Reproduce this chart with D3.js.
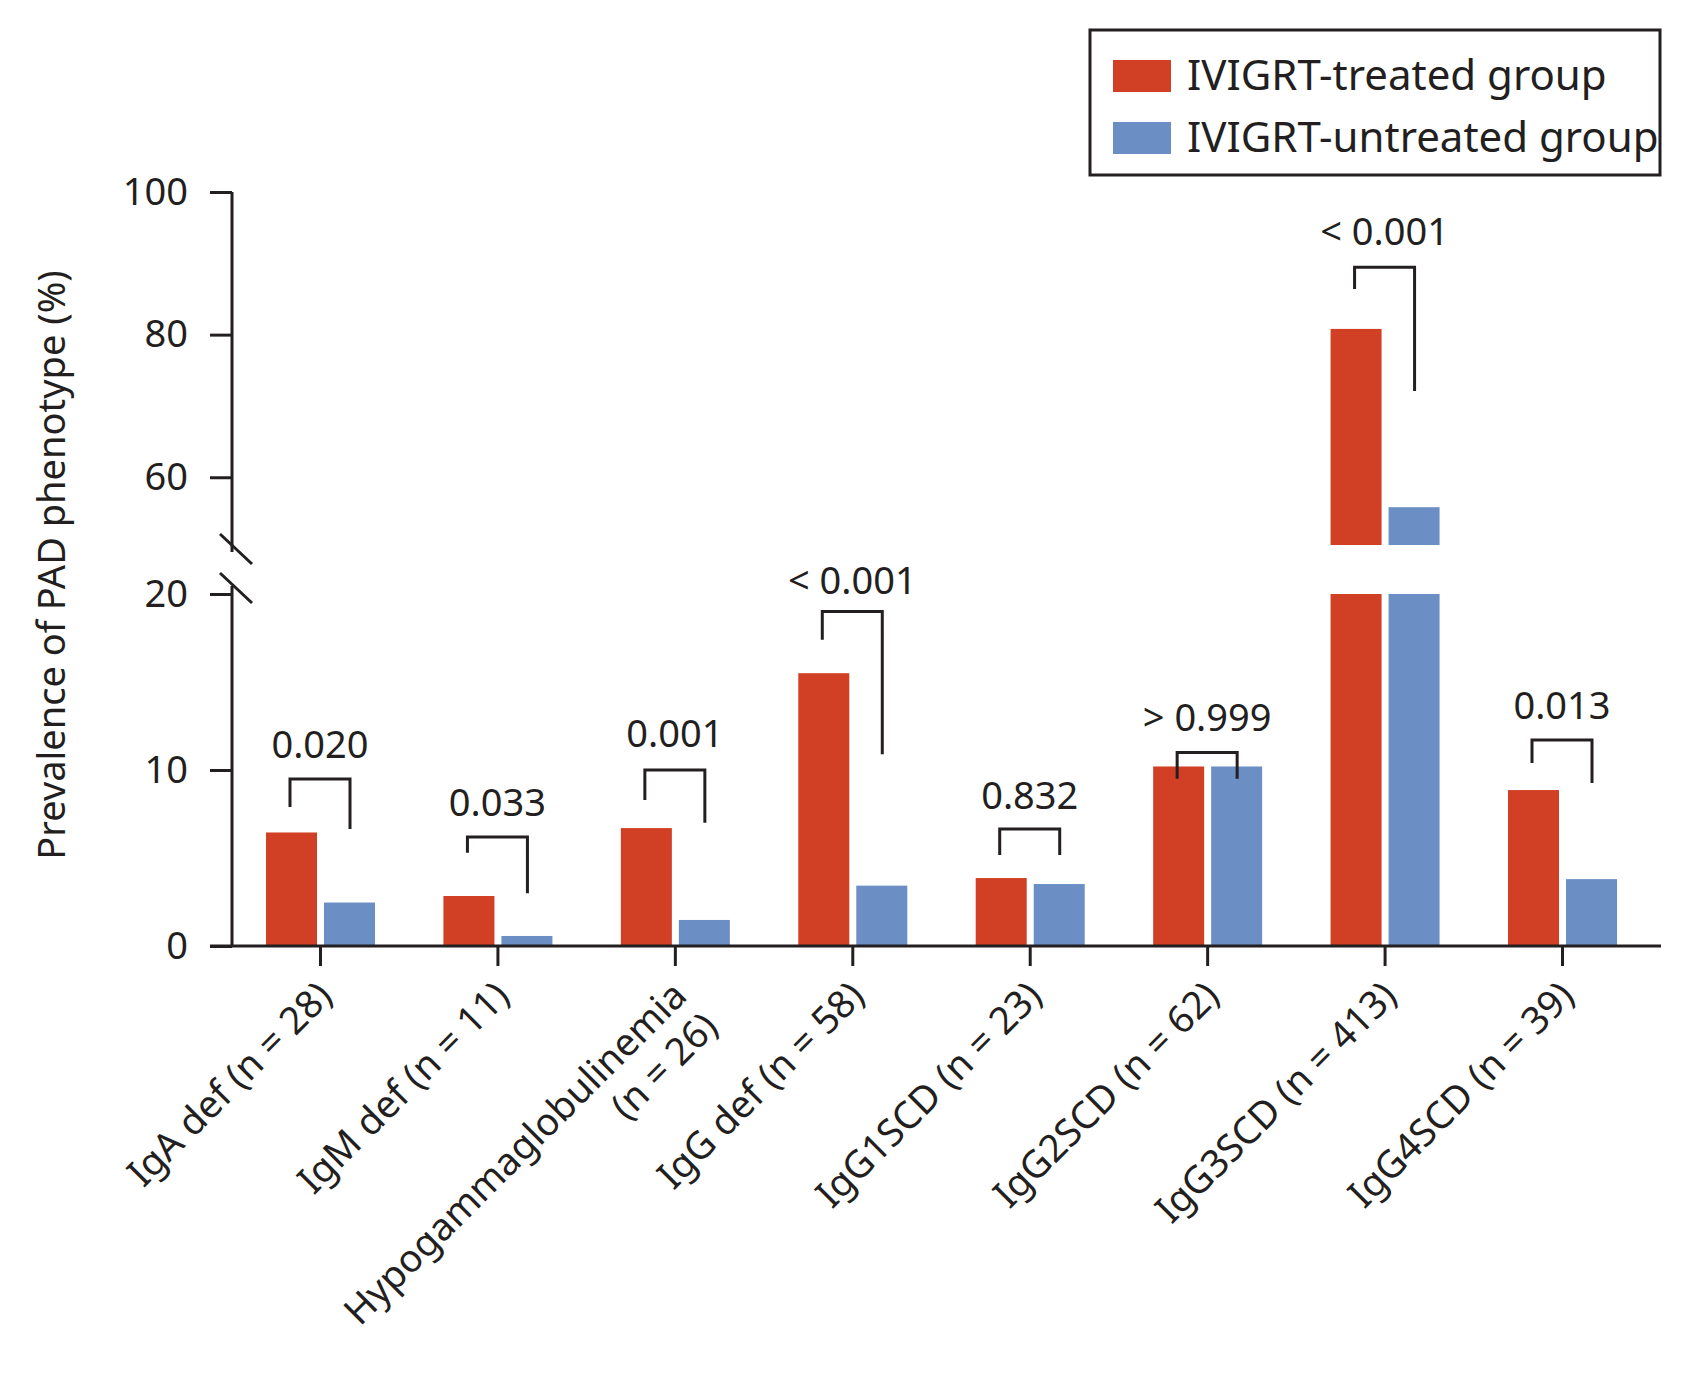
<!DOCTYPE html>
<html><head><meta charset="utf-8">
<script src="https://cdn.jsdelivr.net/npm/d3@7"></script>
<style>body{margin:0;background:#fff}text{font-family:"Noto Sans",sans-serif;fill:#231f20}</style>
</head><body>
<svg id="c" width="1691" height="1384"></svg>
<script>
const categories = ["IgA def (n = 28)","IgM def (n = 11)","Hypogammaglobulinemia|(n = 26)","IgG def (n = 58)","IgG1SCD (n = 23)","IgG2SCD (n = 62)","IgG3SCD (n = 413)","IgG4SCD (n = 39)"];
const treated   = [6.45, 2.84, 6.7, 15.5, 3.86, 10.2, 80.8, 8.86];
const untreated = [2.47, 0.57, 1.48, 3.43, 3.52, 10.2, 55.8, 3.8];
const pLabels = ["0.020","0.033","0.001","< 0.001","0.832","> 0.999","< 0.001","0.013"];
// bracket geometry in data units: [top, leftEnd, rightEnd, labelBaseline]
const brackets = [[9.49,7.9,6.65,10.68],[6.2,5.3,3.0,7.4],[10.0,8.3,7.0,11.3],[19.0,17.4,10.9,20.0],[6.65,5.17,5.17,7.78],[11.0,9.5,9.5,12.2],[89.45,86.4,72.1,92.6],[11.7,10.4,9.26,12.9]];
const upperTicks = [60,80,100];
const lowerTicks = [0,10,20];
const seriesNames = ["IVIGRT-treated group","IVIGRT-untreated group"];
const colors = ["#d13f24","#6b8fc5"];
const BREAK = 20, UPPER_MIN = 50.5;

const svg = d3.select("#c");
const ink = "#231f20";
const x = d3.scalePoint().domain(d3.range(categories.length)).range([320, 1562]);
const yLow = d3.scaleLinear().domain([0, 20]).range([946, 594]);
const yUp = d3.scaleLinear().domain([UPPER_MIN, 100]).range([545, 192]);
const bw = 51, off = [-54, 4];

// bars
[treated, untreated].forEach((vals, s) => {
  vals.forEach((v, i) => {
    const bx = x(i) + off[s];
    if (v <= BREAK) {
      svg.append("rect").attr("x", bx).attr("width", bw).attr("y", yLow(v)).attr("height", yLow(0) - yLow(v)).attr("fill", colors[s]);
    } else {
      svg.append("rect").attr("x", bx).attr("width", bw).attr("y", yLow(BREAK)).attr("height", yLow(0) - yLow(BREAK)).attr("fill", colors[s]);
      svg.append("rect").attr("x", bx).attr("width", bw).attr("y", yUp(v)).attr("height", yUp(UPPER_MIN) - yUp(v)).attr("fill", colors[s]);
    }
  });
});

// axes
const lowAx = svg.append("g").attr("transform", "translate(232,0)")
  .call(d3.axisLeft(yLow).tickValues(lowerTicks).tickSize(22).tickPadding(22));
const upAx = svg.append("g").attr("transform", "translate(232,0)")
  .call(d3.axisLeft(yUp).tickValues(upperTicks).tickSize(22).tickPadding(22));
[lowAx, upAx].forEach(g => {
  g.selectAll("line").attr("stroke", ink).attr("stroke-width", 3);
  g.selectAll("text").attr("font-size", 38).attr("fill", ink).attr("font-family", '"Noto Sans",sans-serif');
});
lowAx.select(".domain").attr("d", `M0,${yLow(20)-8}V${yLow(0)}`).attr("stroke", ink).attr("stroke-width", 3);
upAx.select(".domain").attr("d", `M0,${yUp(100)}V${yUp(UPPER_MIN)+7}`).attr("stroke", ink).attr("stroke-width", 3);
// break marks
[[534,564],[573,603]].forEach(([a,b]) => svg.append("line").attr("x1",220).attr("y1",a).attr("x2",252).attr("y2",b).attr("stroke",ink).attr("stroke-width",3));

// x axis
const xAx = svg.append("g").attr("transform", `translate(0,${yLow(0)})`)
  .call(d3.axisBottom(x).tickSize(20).tickFormat(""));
xAx.select(".domain").attr("d", "M210,0H1661").attr("stroke", ink).attr("stroke-width", 3);
xAx.selectAll("line").attr("stroke", ink).attr("stroke-width", 3);
categories.forEach((c, i) => {
  const t = svg.append("text").attr("transform", `translate(${x(i)+14},${yLow(0)+52}) rotate(-45)`)
    .attr("text-anchor", "end").attr("font-size", 38);
  c.split("|").forEach((ln, k) => t.append("tspan").attr("x", 0).attr("dy", k ? "1.15em" : 0).text(ln));
});

// brackets
brackets.forEach((b, i) => {
  const sc = treated[i] > BREAK ? yUp : yLow;
  const xl = x(i) - 30, xr = x(i) + 30;
  svg.append("path").attr("d", `M${xl},${sc(b[1])}V${sc(b[0])}H${xr}V${sc(b[2])}`)
    .attr("fill", "none").attr("stroke", ink).attr("stroke-width", 3);
  svg.append("text").attr("x", x(i)).attr("y", sc(b[3])).attr("text-anchor", "middle").attr("font-size", 38).text(pLabels[i]);
});

// y title
svg.append("text").attr("transform", "translate(65,565) rotate(-90)").attr("text-anchor", "middle").attr("font-size", 38)
  .text("Prevalence of PAD phenotype (%)");

// legend
svg.append("rect").attr("x", 1090).attr("y", 30).attr("width", 570).attr("height", 145).attr("fill", "none").attr("stroke", ink).attr("stroke-width", 3);
seriesNames.forEach((n, s) => {
  svg.append("rect").attr("x", 1113).attr("y", 60 + s*62).attr("width", 58).attr("height", 32).attr("fill", colors[s]);
  svg.append("text").attr("x", 1187).attr("y", 90 + s*62).attr("font-size", 42).text(n);
});
</script>
</body></html>
